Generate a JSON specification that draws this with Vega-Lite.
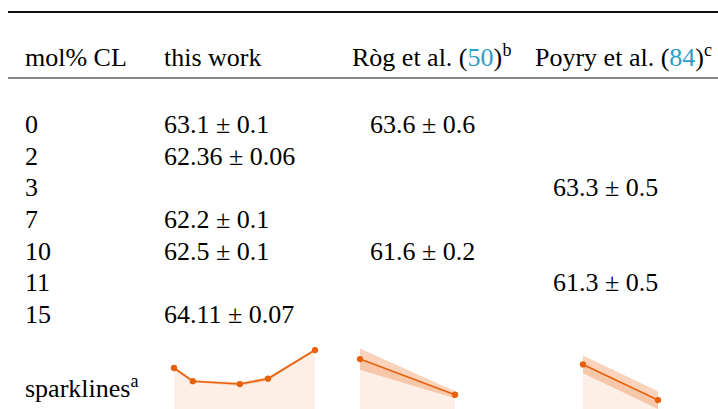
{
  "$schema": "https://vega.github.io/schema/vega-lite/v6.json",
  "width": 710,
  "height": 409,
  "autosize": {"type": "none"},
  "padding": {"left": 8, "top": 0, "right": 0, "bottom": 0},
  "background": "white",
  "config": {
    "view": {"stroke": null},
    "font": "Liberation Serif"
  },
  "datasets": {
    "rules": [{"rule": "top"}, {"rule": "mid"}],
    "header": [
      {"col": 0, "row": 0, "text": "mol% CL"},
      {"col": 1, "row": 0, "text": "this work"},
      {"col": 2, "row": 0, "text": "Ròg et al. ("},
      {"col": 3, "row": 0, "text": "Poyry et al. ("},
      {"col": 0, "row": 8, "text": "sparklines"}
    ],
    "body": [
      {"col": 0, "row": 1, "text": "0"},
      {"col": 1, "row": 1, "text": "63.1 ± 0.1"},
      {"col": 2, "row": 1, "text": "63.6 ± 0.6"},
      {"col": 0, "row": 2, "text": "2"},
      {"col": 1, "row": 2, "text": "62.36 ± 0.06"},
      {"col": 0, "row": 3, "text": "3"},
      {"col": 3, "row": 3, "text": "63.3 ± 0.5"},
      {"col": 0, "row": 4, "text": "7"},
      {"col": 1, "row": 4, "text": "62.2 ± 0.1"},
      {"col": 0, "row": 5, "text": "10"},
      {"col": 1, "row": 5, "text": "62.5 ± 0.1"},
      {"col": 2, "row": 5, "text": "61.6 ± 0.2"},
      {"col": 0, "row": 6, "text": "11"},
      {"col": 3, "row": 6, "text": "61.3 ± 0.5"},
      {"col": 0, "row": 7, "text": "15"},
      {"col": 1, "row": 7, "text": "64.11 ± 0.07"}
    ],
    "spark": [
      {"series": "this work", "mol": 0, "value": 63.1, "err": 0.1},
      {"series": "this work", "mol": 2, "value": 62.36, "err": 0.06},
      {"series": "this work", "mol": 7, "value": 62.2, "err": 0.1},
      {"series": "this work", "mol": 10, "value": 62.5, "err": 0.1},
      {"series": "this work", "mol": 15, "value": 64.11, "err": 0.07},
      {"series": "Rog", "mol": 0, "value": 63.6, "err": 0.6},
      {"series": "Rog", "mol": 10, "value": 61.6, "err": 0.2},
      {"series": "Poyry", "mol": 3, "value": 63.3, "err": 0.5},
      {"series": "Poyry", "mol": 11, "value": 61.3, "err": 0.5}
    ]
  },
  "layer": [
    {
      "data": {"name": "rules"},
      "mark": {"type": "rule", "color": "#111"},
      "encoding": {
        "y": {"field": "rule", "type": "nominal", "scale": {"type": "point", "domain": ["top", "mid"], "range": [12, 78], "padding": 0}, "axis": null},
        "strokeWidth": {"field": "rule", "type": "ordinal", "scale": {"domain": ["top", "mid"], "range": [1.8, 1.2]}, "legend": null}
      }
    },
    {
      "encoding": {
        "x": {"field": "col", "type": "quantitative", "scale": {"domain": [0, 1, 2, 3], "range": [17, 156, 344, 527], "nice": false, "zero": false}, "axis": null},
        "y": {"field": "row", "type": "quantitative", "scale": {"domain": [0, 1, 7, 8], "range": [66, 133, 323, 397], "nice": false, "zero": false}, "axis": null},
        "text": {"field": "text", "type": "nominal"}
      },
      "layer": [
        {"data": {"name": "header"}, "mark": {"type": "text", "font": "Liberation Serif", "fontSize": 26, "align": "left", "baseline": "alphabetic", "color": "#000"}},
        {"data": {"name": "body"}, "transform": [{"filter": "datum.col < 2"}], "mark": {"type": "text", "font": "Liberation Serif", "fontSize": 26, "align": "left", "baseline": "alphabetic", "color": "#000"}},
        {"data": {"name": "body"}, "transform": [{"filter": "datum.col >= 2"}], "mark": {"type": "text", "font": "Liberation Serif", "fontSize": 26, "align": "left", "baseline": "alphabetic", "color": "#000", "dx": 18}},
        {"data": {"values": [{"col": 2, "row": 0, "text": "50"}]}, "mark": {"type": "text", "font": "Liberation Serif", "fontSize": 26, "align": "left", "baseline": "alphabetic", "dx": 115.5, "color": "#2E9DC8"}},
        {"data": {"values": [{"col": 2, "row": 0, "text": ")"}]}, "mark": {"type": "text", "font": "Liberation Serif", "fontSize": 26, "align": "left", "baseline": "alphabetic", "color": "#000", "dx": 141.5}},
        {"data": {"values": [{"col": 2, "row": 0, "text": "b"}]}, "mark": {"type": "text", "font": "Liberation Serif", "align": "left", "baseline": "alphabetic", "color": "#000", "dx": 150.5, "dy": -10, "fontSize": 18}},
        {"data": {"values": [{"col": 3, "row": 0, "text": "84"}]}, "mark": {"type": "text", "font": "Liberation Serif", "fontSize": 26, "align": "left", "baseline": "alphabetic", "dx": 134.3, "color": "#2E9DC8"}},
        {"data": {"values": [{"col": 3, "row": 0, "text": ")"}]}, "mark": {"type": "text", "font": "Liberation Serif", "fontSize": 26, "align": "left", "baseline": "alphabetic", "color": "#000", "dx": 160.3}},
        {"data": {"values": [{"col": 3, "row": 0, "text": "c"}]}, "mark": {"type": "text", "font": "Liberation Serif", "align": "left", "baseline": "alphabetic", "color": "#000", "dx": 169, "dy": -10, "fontSize": 18}},
        {"data": {"values": [{"col": 0, "row": 8, "text": "a"}]}, "mark": {"type": "text", "font": "Liberation Serif", "align": "left", "baseline": "alphabetic", "color": "#000", "dx": 105.5, "dy": -10, "fontSize": 18}}
      ]
    },
    {
      "data": {"name": "spark"},
      "transform": [{"filter": "datum.series == 'this work'"}],
      "encoding": {
        "x": {"field": "mol", "type": "quantitative", "scale": {"domain": [0, 15], "range": [166, 307], "nice": false, "zero": false}, "axis": null}
      },
      "layer": [
        {"mark": {"type": "area", "color": "#E8600A", "opacity": 0.1},
         "encoding": {"y": {"field": "value", "type": "quantitative", "scale": {"domain": [60, 66], "range": [423.2, 316.4], "nice": false, "zero": false}, "axis": null}, "y2": {"datum": 60}}},
        {"mark": {"type": "errorband", "color": "#E8600A", "opacity": 0.28},
         "encoding": {"y": {"field": "value", "type": "quantitative", "scale": {"domain": [60, 66], "range": [423.2, 316.4], "nice": false, "zero": false}, "axis": null}, "yError": {"field": "err"}}},
        {"mark": {"type": "line", "color": "#E8600A", "strokeWidth": 1.6},
         "encoding": {"y": {"field": "value", "type": "quantitative", "scale": {"domain": [60, 66], "range": [423.2, 316.4], "nice": false, "zero": false}, "axis": null}}},
        {"mark": {"type": "point", "filled": true, "color": "#E8600A", "opacity": 1, "size": 40},
         "encoding": {"y": {"field": "value", "type": "quantitative", "scale": {"domain": [60, 66], "range": [423.2, 316.4], "nice": false, "zero": false}, "axis": null}}}
      ]
    },
    {
      "data": {"name": "spark"},
      "transform": [{"filter": "datum.series == 'Rog'"}],
      "encoding": {
        "x": {"field": "mol", "type": "quantitative", "scale": {"domain": [0, 10], "range": [352, 447], "nice": false, "zero": false}, "axis": null}
      },
      "layer": [
        {"mark": {"type": "area", "color": "#E8600A", "opacity": 0.1},
         "encoding": {"y": {"field": "value", "type": "quantitative", "scale": {"domain": [60, 66], "range": [423.2, 316.4], "nice": false, "zero": false}, "axis": null}, "y2": {"datum": 60}}},
        {"mark": {"type": "errorband", "color": "#E8600A", "opacity": 0.28},
         "encoding": {"y": {"field": "value", "type": "quantitative", "scale": {"domain": [60, 66], "range": [423.2, 316.4], "nice": false, "zero": false}, "axis": null}, "yError": {"field": "err"}}},
        {"mark": {"type": "line", "color": "#E8600A", "strokeWidth": 1.6},
         "encoding": {"y": {"field": "value", "type": "quantitative", "scale": {"domain": [60, 66], "range": [423.2, 316.4], "nice": false, "zero": false}, "axis": null}}},
        {"mark": {"type": "point", "filled": true, "color": "#E8600A", "opacity": 1, "size": 40},
         "encoding": {"y": {"field": "value", "type": "quantitative", "scale": {"domain": [60, 66], "range": [423.2, 316.4], "nice": false, "zero": false}, "axis": null}}}
      ]
    },
    {
      "data": {"name": "spark"},
      "transform": [{"filter": "datum.series == 'Poyry'"}],
      "encoding": {
        "x": {"field": "mol", "type": "quantitative", "scale": {"domain": [3, 11], "range": [575, 650], "nice": false, "zero": false}, "axis": null}
      },
      "layer": [
        {"mark": {"type": "area", "color": "#E8600A", "opacity": 0.1},
         "encoding": {"y": {"field": "value", "type": "quantitative", "scale": {"domain": [60, 66], "range": [423.2, 316.4], "nice": false, "zero": false}, "axis": null}, "y2": {"datum": 60}}},
        {"mark": {"type": "errorband", "color": "#E8600A", "opacity": 0.28},
         "encoding": {"y": {"field": "value", "type": "quantitative", "scale": {"domain": [60, 66], "range": [423.2, 316.4], "nice": false, "zero": false}, "axis": null}, "yError": {"field": "err"}}},
        {"mark": {"type": "line", "color": "#E8600A", "strokeWidth": 1.6},
         "encoding": {"y": {"field": "value", "type": "quantitative", "scale": {"domain": [60, 66], "range": [423.2, 316.4], "nice": false, "zero": false}, "axis": null}}},
        {"mark": {"type": "point", "filled": true, "color": "#E8600A", "opacity": 1, "size": 40},
         "encoding": {"y": {"field": "value", "type": "quantitative", "scale": {"domain": [60, 66], "range": [423.2, 316.4], "nice": false, "zero": false}, "axis": null}}}
      ]
    }
  ],
  "resolve": {"scale": {"x": "independent", "y": "independent"}}
}
